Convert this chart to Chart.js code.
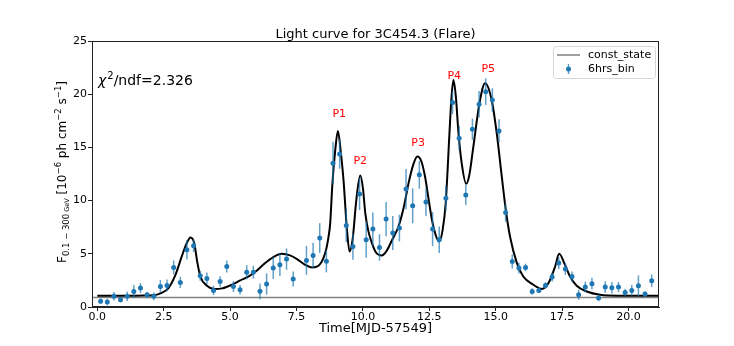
<!DOCTYPE html>
<html>
<head>
<meta charset="utf-8">
<script src="https://cdn.jsdelivr.net/npm/chart.js@4"></script>
<style>
  html, body { margin: 0; padding: 0; background: #fff; }
  canvas { display: block; }
</style>
</head>
<body>
<canvas id="lc" width="734" height="346"></canvas>
<script>
'use strict';

// ── Data ──────────────────────────────────────────────────
// 6 hour bins, bin centres in MJD-57549 (one bin at 7.625 is missing)
const binX = [
  0.125, 0.375, 0.625, 0.875, 1.125, 1.375, 1.625, 1.875, 2.125, 2.375,
  2.625, 2.875, 3.125, 3.375, 3.625, 3.875, 4.125, 4.375, 4.625, 4.875,
  5.125, 5.375, 5.625, 5.875, 6.125, 6.375, 6.625, 6.875, 7.125, 7.375,
  7.875, 8.125, 8.375, 8.625, 8.875, 9.125, 9.375, 9.625, 9.875,
  10.125, 10.375, 10.625, 10.875, 11.125, 11.375, 11.625, 11.875, 12.125, 12.375,
  12.625, 12.875, 13.125, 13.375, 13.625, 13.875, 14.125, 14.375, 14.625, 14.875,
  15.125, 15.375, 15.625, 15.875, 16.125, 16.375, 16.625, 16.875, 17.125, 17.375,
  17.625, 17.875, 18.125, 18.375, 18.625, 18.875, 19.125, 19.375, 19.625, 19.875,
  20.125, 20.375, 20.625, 20.875
];
const flux = [
  0.53, 0.47, 1.00, 0.69, 1.00, 1.46, 1.78, 1.15, 1.00, 1.93,
  2.03, 3.72, 2.31, 5.38, 5.76, 2.94, 2.69, 1.56, 2.40, 3.81,
  1.93, 1.62, 3.27, 3.27, 1.47, 2.16, 3.66, 3.97, 4.50, 2.63,
  4.38, 4.85, 6.48, 4.30, 13.52, 14.39, 7.66, 5.69, 10.61,
  6.32, 7.32, 5.60, 8.26, 6.95, 7.42, 11.08, 9.51, 12.42, 9.86,
  7.32, 6.32, 10.23, 19.21, 15.87, 10.52, 16.71, 19.06, 20.24, 19.46,
  16.55, 8.88, 4.28, 3.66, 3.72, 1.46, 1.56, 2.03, 2.82, 4.13,
  3.57, 2.87, 1.15, 1.88, 2.19, 0.85, 1.88, 1.81, 1.88, 1.37,
  1.56, 2.00, 1.22, 2.47
];
const fluxErr = [
  0.25, 0.30, 0.40, 0.25, 0.44, 0.60, 0.47, 0.27, 0.36, 0.60,
  0.55, 0.66, 0.52, 0.90, 0.60, 0.47, 0.55, 0.44, 0.50, 0.56,
  0.52, 0.45, 0.66, 0.60, 0.75, 1.00, 1.03, 1.06, 1.00, 0.70,
  1.36, 1.20, 1.40, 1.05, 2.00, 1.40, 1.56, 1.25, 1.50,
  1.70, 1.56, 1.25, 1.60, 1.60, 1.25, 1.90, 1.64, 1.30, 1.30,
  1.60, 1.25, 1.20, 1.10, 1.16, 0.94, 1.00, 1.25, 1.25, 1.10,
  1.10, 0.86, 0.66, 0.50, 0.35, 0.30, 0.25, 0.30, 0.42, 0.56,
  0.55, 0.47, 0.47, 0.50, 0.55, 0.30, 0.55, 0.55, 0.47, 0.35,
  0.50, 0.97, 0.27, 0.58
];

// fitted flare model
const modelX = [
  0.0, 1.0, 1.75, 2.1, 2.4, 2.68, 2.93, 3.18, 3.35, 3.51,
  3.65, 3.76, 3.88, 4.13, 4.4, 4.7, 5.07, 5.38, 5.7, 6.0,
  6.32, 6.6, 6.95, 7.26, 7.52, 7.8, 8.08, 8.33, 8.58, 8.7,
  8.77, 8.85, 8.95, 9.06, 9.17, 9.27, 9.4, 9.5, 9.62, 9.75,
  9.9, 10.0, 10.09, 10.2, 10.34, 10.5, 10.71, 10.9, 11.1, 11.34,
  11.55, 11.72, 11.9, 12.05, 12.2, 12.34, 12.47, 12.6, 12.75, 12.87,
  13.0, 13.12, 13.26, 13.33, 13.41, 13.5, 13.6, 13.72, 13.89, 14.0,
  14.16, 14.39, 14.6, 14.85, 15.04, 15.23, 15.38, 15.54, 15.8, 16.04,
  16.42, 16.74, 16.99, 17.24, 17.39, 17.61, 17.8, 18.05, 18.43, 18.93,
  19.68, 21.15
];
const modelY = [
  1.05, 1.05, 1.08, 1.10, 1.30, 1.78, 2.94, 4.75, 5.90, 6.54,
  6.00, 4.28, 2.87, 2.00, 1.69, 1.75, 2.09, 2.50, 2.87, 3.40,
  4.13, 4.65, 5.00, 4.85, 4.50, 4.00, 3.72, 3.88, 5.07, 6.50,
  7.89, 11.50, 14.50, 16.55, 14.50, 11.95, 7.26, 5.22, 6.50, 10.00,
  12.36, 11.20, 8.83, 7.20, 6.00, 5.10, 4.85, 5.30, 6.30, 7.57,
  9.50, 11.64, 13.40, 14.14, 13.70, 12.26, 10.20, 8.20, 6.70, 6.16,
  7.20, 9.80, 16.34, 19.50, 21.34, 19.80, 16.34, 13.52, 11.58, 12.30,
  15.08, 19.15, 21.03, 19.46, 16.34, 12.26, 9.14, 6.63, 4.13, 2.87,
  2.09, 1.69, 2.25, 3.81, 5.00, 3.97, 2.87, 2.00, 1.46, 1.15,
  1.06, 1.05
];

const constState = 0.9;
const chi2ndf = '2.326';

const peakNames = ['P1', 'P2', 'P3', 'P4', 'P5'];
const peakX = [9.11, 9.90, 12.08, 13.44, 14.72];
const peakY = [18.1, 13.7, 15.4, 21.7, 22.4];

const xTicks = [0, 2.5, 5, 7.5, 10, 12.5, 15, 17.5, 20];
const yTicks = [0, 5, 10, 15, 20, 25];
const xMin = -0.2, xMax = 21.15;

// ── Helpers ────────────────────────────────────────────────
const FONT = '"DejaVu Sans", sans-serif';

function drawRich(ctx, parts, x, y) {
  let cx = x;
  parts.forEach(([t, size, dy]) => {
    ctx.font = size + 'px ' + FONT;
    ctx.fillText(t, cx, y + dy);
    cx += ctx.measureText(t).width;
  });
}
function richWidth(ctx, parts) {
  return parts.reduce((w, [t, size]) => {
    ctx.font = size + 'px ' + FONT;
    return w + ctx.measureText(t).width;
  }, 0);
}

// ── Extra drawing: error bars, frame, texts, legend ─────────
const overlay = {
  id: 'overlay',
  beforeDatasetDraw(chart, args) {
    if (args.index !== 0) return;
    const { ctx, scales: { x, y } } = chart;
    ctx.save();
    ctx.strokeStyle = 'rgba(31,119,180,0.7)';
    ctx.lineWidth = 1.5;
    binX.forEach((bx, i) => {
      const px = x.getPixelForValue(bx);
      ctx.beginPath();
      ctx.moveTo(px, y.getPixelForValue(flux[i] - fluxErr[i]));
      ctx.lineTo(px, y.getPixelForValue(flux[i] + fluxErr[i]));
      ctx.stroke();
    });
    ctx.restore();
  },
  afterDraw(chart) {
    const { ctx, chartArea: a, scales: { x, y } } = chart;
    ctx.save();

    // frame
    ctx.strokeStyle = '#222';
    ctx.lineWidth = 1;
    ctx.strokeRect(Math.round(a.left) + 0.5, Math.round(a.top) + 0.5,
      Math.round(a.right - a.left) - 1, Math.round(a.bottom - a.top) - 1);

    ctx.fillStyle = '#000';
    ctx.textBaseline = 'alphabetic';

    // title
    ctx.font = '13px ' + FONT;
    ctx.textAlign = 'center';
    ctx.fillText('Light curve for 3C454.3 (Flare)', (a.left + a.right) / 2, 38);

    // x label
    ctx.fillText('Time[MJD-57549]', (a.left + a.right) / 2, 332);

    // y label (rotated, with sub/superscripts)
    const yParts = [
      ['F', 12, 0], ['0.1 \u2212 300', 8.5, 3], [' GeV', 6.5, 3],
      [' [10', 12, 0], ['\u22126', 8.5, -5], [' ph cm', 12, 0], ['\u22122', 8.5, -5],
      [' s', 12, 0], ['\u22121', 8.5, -5], [']', 12, 0]
    ];
    ctx.textAlign = 'left';
    ctx.save();
    ctx.translate(66, (a.top + a.bottom) / 2 - 2);
    ctx.rotate(-Math.PI / 2);
    drawRich(ctx, yParts, -richWidth(ctx, yParts) / 2, 0);
    ctx.restore();

    // chi2 text
    ctx.font = 'italic 14px ' + FONT;
    ctx.fillText('\u03c7', a.left + 6, a.top + 44);
    const cx = a.left + 6 + ctx.measureText('\u03c7').width + 1;
    drawRich(ctx, [['2', 10, -6], ['/ndf=' + chi2ndf, 14, 0]], cx, a.top + 44);

    // peak labels
    ctx.fillStyle = '#ff0000';
    ctx.font = '11px ' + FONT;
    ctx.textAlign = 'center';
    ctx.textBaseline = 'middle';
    peakNames.forEach((n, i) => ctx.fillText(n, x.getPixelForValue(peakX[i]), y.getPixelForValue(peakY[i])));

    // legend
    const lx = a.right - 106, ly = a.top + 5, lw = 102, lh = 32;
    ctx.beginPath();
    ctx.roundRect(lx + 0.5, ly + 0.5, lw, lh, 3);
    ctx.fillStyle = 'rgba(255,255,255,0.8)';
    ctx.fill();
    ctx.strokeStyle = '#d6d6d6';
    ctx.lineWidth = 1;
    ctx.stroke();

    ctx.strokeStyle = '#808080';
    ctx.lineWidth = 1.5;
    ctx.beginPath();
    ctx.moveTo(lx + 4, ly + 9);
    ctx.lineTo(lx + 27, ly + 9);
    ctx.stroke();

    ctx.strokeStyle = 'rgba(31,119,180,0.7)';
    ctx.beginPath();
    ctx.moveTo(lx + 15.5, ly + 18);
    ctx.lineTo(lx + 15.5, ly + 28);
    ctx.stroke();
    ctx.fillStyle = '#1f77b4';
    ctx.beginPath();
    ctx.arc(lx + 15.5, ly + 23, 2.5, 0, Math.PI * 2);
    ctx.fill();

    ctx.fillStyle = '#000';
    ctx.textAlign = 'left';
    ctx.font = '11px ' + FONT;
    ctx.fillText('const_state', lx + 35, ly + 9);
    ctx.fillText('6hrs_bin', lx + 35, ly + 23);

    ctx.restore();
  }
};

// ── Chart ──────────────────────────────────────────────────
const lightCurve = new Chart(document.getElementById('lc'), {
  type: 'scatter',
  data: {
    datasets: [
      {
        label: '6hrs_bin',
        data: binX.map((bx, i) => ({ x: bx, y: flux[i] })),
        backgroundColor: '#1f77b4',
        borderWidth: 0,
        pointRadius: 2.5,
      },
      {
        type: 'line',
        label: 'model',
        data: modelX.map((mx, i) => ({ x: mx, y: modelY[i] })),
        borderColor: '#000',
        borderWidth: 2,
        pointRadius: 0,
        cubicInterpolationMode: 'monotone',
        fill: false,
      },
      {
        type: 'line',
        label: 'const_state',
        data: [{ x: xMin, y: constState }, { x: xMax, y: constState }],
        borderColor: '#808080',
        borderWidth: 1.5,
        pointRadius: 0,
        fill: false,
      },
    ],
  },
  options: {
    responsive: false,
    animation: false,
    devicePixelRatio: 1,
    layout: { padding: { left: 0, right: 75, top: 41, bottom: 0 } },
    plugins: { legend: { display: false }, tooltip: { enabled: false } },
    scales: {
      x: {
        type: 'linear',
        min: xMin,
        max: xMax,
        afterFit: (s) => { s.height = 39; },
        afterBuildTicks: (s) => { s.ticks = xTicks.map(v => ({ value: v })); },
        grid: { display: true, drawOnChartArea: false, drawTicks: true, tickLength: 4, color: '#222' },
        border: { display: true, color: '#222' },
        ticks: {
          color: '#000',
          padding: 0,
          maxRotation: 0,
          font: { family: 'DejaVu Sans', size: 11 },
          callback: (v) => v.toFixed(1),
        },
      },
      y: {
        type: 'linear',
        min: 0,
        max: 25,
        afterFit: (s) => { s.width = 92; },
        afterBuildTicks: (s) => { s.ticks = yTicks.map(v => ({ value: v })); },
        grid: { display: true, drawOnChartArea: false, drawTicks: true, tickLength: 4, color: '#222' },
        border: { display: true, color: '#222' },
        ticks: {
          color: '#000',
          padding: 1,
          font: { family: 'DejaVu Sans', size: 11 },
        },
      },
    },
  },
  plugins: [overlay],
});
</script>
</body>
</html>
